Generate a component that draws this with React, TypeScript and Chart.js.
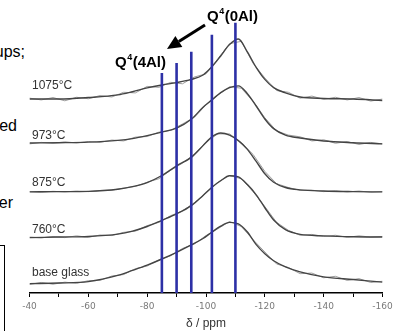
import React, { useEffect, useRef } from 'react';
import { Chart, registerables } from 'chart.js';

Chart.register(...registerables);

// chemical shift grid for the fitted curves (ppm)
const fitPpm = [-40, -50, -60, -70, -75, -80, -85, -90, -95, -99, -102, -105, -108, -111, -114, -117, -120, -123, -127, -132, -140, -150, -160];
const fit1075 = [0.3, 0.3, 0.8, 1.7, 2.8, 4.1, 5.1, 5.9, 7.0, 8.5, 11.3, 15.0, 18.9, 20.8, 16.5, 11.2, 7.0, 4.2, 2.4, 1.0, 0.5, 0.3, -0.2];
const fit973 = [0.3, 0.4, 0.6, 1.2, 1.8, 2.8, 4.0, 5.4, 8.4, 12.5, 15.0, 17.5, 19.2, 19.8, 17.2, 13.0, 8.5, 5.2, 3.0, 2.0, 1.0, 0.4, 0.0];
const fit875 = [0.0, 0.1, 0.2, 0.9, 1.8, 3.2, 5.6, 8.9, 11.8, 15.8, 18.8, 20.1, 19.4, 17.5, 14.6, 10.5, 6.2, 3.3, 1.5, 0.7, 0.3, 0.1, 0.0];
const fit760 = [-0.2, 0.0, 0.2, 1.0, 2.0, 3.6, 5.7, 7.9, 10.7, 14.2, 17.0, 19.2, 20.9, 20.5, 18.0, 14.5, 10.0, 5.8, 2.5, 0.9, 0.4, 0.1, 0.0];
const fitBase = [-0.2, 0.0, 0.5, 2.6, 4.3, 6.1, 8.2, 10.5, 13.0, 15.2, 17.4, 19.4, 20.7, 20.2, 17.5, 13.2, 10.0, 7.6, 5.5, 3.8, 2.1, 1.2, 0.3];

// experimental (noisy) spectra
const expPpm = [-40, -44, -48, -52, -56, -60, -64, -68, -72, -76, -80, -84, -88, -92, -96, -100, -104, -108, -112, -116, -120, -124, -128, -132, -136, -140, -144, -148, -152, -156, -160];
const exp1075 = [0.6, 0.0, 0.8, -0.3, 0.9, 0.4, 1.5, 1.0, 2.6, 2.4, 4.6, 4.3, 6.0, 5.5, 7.8, 8.9, 14.0, 19.2, 20.0, 12.5, 7.5, 3.2, 2.6, 0.6, 1.3, 0.2, 0.9, 0.0, 0.8, -0.4, 0.3];
const exp973 = [0.0, 0.5, 0.2, 0.7, 0.3, 0.8, 0.5, 1.3, 1.0, 2.3, 2.5, 4.0, 4.6, 6.8, 9.0, 13.3, 16.6, 19.5, 19.0, 14.6, 8.9, 4.4, 3.0, 2.4, 1.0, 1.4, 0.2, 0.8, -0.2, 0.5, 0.0];
const exp875 = [0.1, -0.1, 0.2, 0.0, 0.3, 0.1, 0.5, 0.6, 1.3, 1.9, 3.3, 4.5, 7.4, 9.8, 12.9, 17.0, 19.8, 19.8, 16.8, 12.8, 7.0, 2.8, 1.5, 0.5, 0.6, 0.1, 0.4, 0.0, 0.3, -0.1, 0.1];
const exp760 = [0.0, -0.3, 0.2, -0.2, 0.4, -0.1, 0.7, 0.5, 1.6, 2.0, 3.9, 5.0, 7.3, 8.9, 11.7, 15.0, 18.7, 21.0, 19.9, 15.5, 10.4, 5.0, 2.3, 0.6, 0.9, 0.2, 0.6, -0.1, 0.4, 0.0, 0.2];
const expBase = [-0.5, 0.2, -0.4, 0.3, -0.1, 0.8, 0.9, 2.4, 2.9, 4.9, 5.8, 7.9, 9.3, 11.8, 13.3, 16.2, 18.5, 21.0, 19.3, 14.8, 10.6, 6.5, 5.3, 3.2, 3.4, 1.8, 2.3, 0.9, 1.5, 0.2, 0.6];

const sampleLabels = ['1075°C', '973°C', '875°C', '760°C', 'base glass'];
const stackOffsets = [65.9, 50.9, 34.5, 19.1, 3.4];
const fitSeries = [fit1075, fit973, fit875, fit760, fitBase];
const expSeries = [exp1075, exp973, exp875, exp760, expBase];

// Q4(nAl) reference positions (ppm) and line heights
const qLinePpm = [-85, -90, -95, -102, -110];
const qLineTop = [75.1, 78.5, 82.3, 88.1, 92.2];

const X_MIN = -160;
const X_MAX = -40;
const X_STEP = 10;
const X_LABEL_STEP = 20;

// layout (pixels)
const LABEL_Y = [86, 136, 183, 230, 273];
const BLUE = '#2d30a6';

const annotPlugin = {
  id: 'annot',
  afterDatasetsDraw(chart: any) {
    const ctx = chart.ctx;
    const xs = chart.scales.x;
    ctx.save();
    // sample labels
    ctx.fillStyle = '#333';
    ctx.font = '12px "Liberation Sans", Arial, sans-serif';
    ctx.textBaseline = 'middle';
    ctx.textAlign = 'left';
    const lx = xs.getPixelForValue(X_MAX) + 2.5;
    sampleLabels.forEach((t, i) => ctx.fillText(t, lx, LABEL_Y[i]));

    // Q labels
    const drawQ = (x: number, y: number, n: string) => {
      ctx.fillStyle = '#000';
      ctx.font = 'bold 15px "Liberation Sans", Arial, sans-serif';
      ctx.textBaseline = 'middle';
      ctx.fillText('Q', x, y);
      const w = ctx.measureText('Q').width;
      ctx.font = 'bold 9px "Liberation Sans", Arial, sans-serif';
      ctx.fillText('4', x + w + 0.5, y - 5);
      const w2 = ctx.measureText('4').width;
      ctx.font = 'bold 15px "Liberation Sans", Arial, sans-serif';
      ctx.fillText('(' + n + 'Al)', x + w + w2 + 1, y);
    };
    drawQ(115, 63, '4');
    drawQ(207, 17, '0');

    // arrow
    const x1 = 205, y1 = 25, x2 = 167, y2 = 49;
    const ang = Math.atan2(y2 - y1, x2 - x1);
    const hl = 14, hw = 6.5;
    const bx = x2 - hl * Math.cos(ang), by = y2 - hl * Math.sin(ang);
    ctx.strokeStyle = '#000';
    ctx.lineWidth = 3;
    ctx.beginPath();
    ctx.moveTo(x1, y1);
    ctx.lineTo(bx, by);
    ctx.stroke();
    ctx.fillStyle = '#000';
    ctx.beginPath();
    ctx.moveTo(x2, y2);
    ctx.lineTo(bx + hw * Math.sin(ang), by - hw * Math.cos(ang));
    ctx.lineTo(bx - hw * Math.sin(ang), by + hw * Math.cos(ang));
    ctx.closePath();
    ctx.fill();
    ctx.restore();
  },
};

export default function App() {
  const ref = useRef<HTMLCanvasElement | null>(null);

  useEffect(() => {
    if (!ref.current) return;
    const datasets: any[] = [];
    expSeries.forEach((s, i) => {
      datasets.push({
        data: expPpm.map((x, j) => ({ x, y: stackOffsets[i] + s[j] })),
        borderColor: '#9c9c9c',
        borderWidth: 1,
        pointRadius: 0,
        tension: 0,
        order: 3,
      });
    });
    fitSeries.forEach((s, i) => {
      datasets.push({
        data: fitPpm.map((x, j) => ({ x, y: stackOffsets[i] + s[j] })),
        borderColor: '#444',
        borderWidth: 1.4,
        pointRadius: 0,
        cubicInterpolationMode: 'monotone',
        order: 2,
      });
    });
    qLinePpm.forEach((p, i) => {
      datasets.push({
        data: [
          { x: p, y: 0 },
          { x: p, y: qLineTop[i] },
        ],
        borderColor: BLUE,
        borderWidth: 2.6,
        pointRadius: 0,
        order: 1,
      });
    });

    const chart = new Chart(ref.current, {
      type: 'line',
      data: { datasets },
      options: {
        animation: false,
        responsive: true,
        maintainAspectRatio: false,
        layout: { padding: { left: 29.5, right: 15.5, top: 0, bottom: 0 } },
        plugins: { legend: { display: false }, tooltip: { enabled: false } },
        scales: {
          x: {
            type: 'linear',
            min: X_MIN,
            max: X_MAX,
            reverse: true,
            afterFit: (scale: any) => {
              scale.height = 38;
            },
            border: { display: true, color: '#000', width: 1.5 },
            grid: { drawOnChartArea: false, drawTicks: true, tickLength: 4, tickColor: '#000', tickWidth: 1 },
            ticks: {
              stepSize: X_STEP,
              autoSkip: false,
              maxRotation: 0,
              padding: 4,
              color: '#7a7a7a',
              font: { size: 9, family: '"DejaVu Sans", sans-serif' },
              callback: (v: any) => (Number(v) % X_LABEL_STEP === 0 ? String(v) : ''),
            },
            title: {
              display: true,
              text: 'δ / ppm',
              color: '#333',
              font: { size: 12, family: '"Liberation Sans", Arial, sans-serif' },
              padding: { top: 0, bottom: 0 },
            },
          },
          y: { display: false, min: 0, max: 100 },
        },
      },
      plugins: [annotPlugin],
    } as any);
    return () => chart.destroy();
  }, []);

  const side: React.CSSProperties = {
    position: 'absolute',
    whiteSpace: 'nowrap',
    textAlign: 'right',
    font: '16px "Liberation Sans", Arial, sans-serif',
    color: '#000',
    lineHeight: '16px',
  };

  return (
    <div style={{ position: 'fixed', left: 0, top: 0, width: 398, height: 331, overflow: 'hidden', background: '#fff' }}>
      <div style={{ ...side, right: 373, top: 44 }}>groups;</div>
      <div style={{ ...side, right: 381, top: 118 }}>formed</div>
      <div style={{ ...side, right: 385, top: 195 }}>after</div>
      <div style={{ position: 'absolute', left: -100, top: 245, width: 103, height: 200, border: '1.5px solid #000' }} />
      <div style={{ position: 'absolute', left: 0, top: 0, width: 398, height: 331 }}>
        <canvas ref={ref} />
      </div>
    </div>
  );
}
